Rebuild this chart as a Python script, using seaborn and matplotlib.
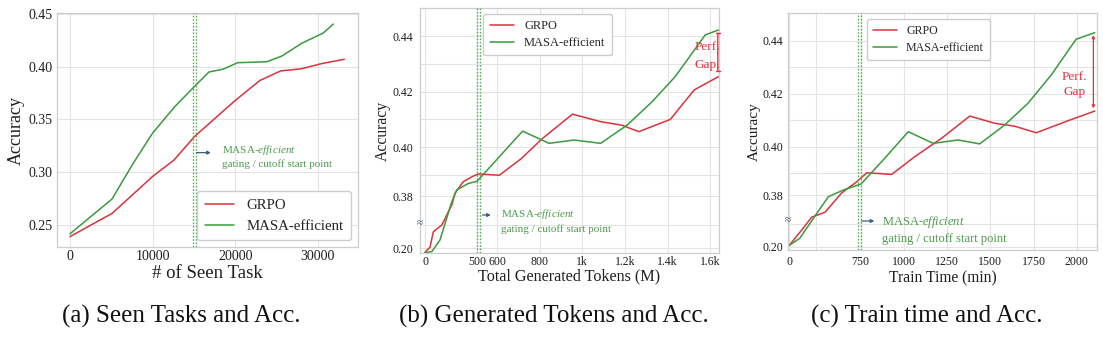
import numpy as np
import pandas as pd
import matplotlib
matplotlib.use("Agg")
import matplotlib.pyplot as plt
import seaborn as sns

# ---------------- data ----------------
# (a) seen tasks
a_x_grpo = [0, 5100, 10000, 12600, 15100, 20000, 23000, 25500, 28000, 30500, 33200]
a_y_grpo = [0.239, 0.261, 0.296, 0.3116, 0.334, 0.368, 0.387, 0.396, 0.398, 0.403, 0.407]
a_x_masa = [0, 5100, 7660, 10000, 12670, 15130, 16830, 18560, 20300, 23810, 25630, 28050, 30670, 31880]
a_y_masa = [0.2416, 0.2747, 0.3085, 0.337, 0.362, 0.3817, 0.395, 0.3977, 0.4038, 0.4047, 0.410, 0.4222, 0.432, 0.4404]
a_xticks = [0, 10000, 20000, 30000]
a_yticks = [0.25, 0.30, 0.35, 0.40, 0.45]

# (b) generated tokens (M)
b_x_grpo = [0, 48, 80, 161, 257, 288, 368, 464, 507, 611, 712, 814, 954, 1086, 1187, 1265, 1413, 1525, 1639]
b_y_grpo = [0.186, 0.204, 0.257, 0.280, 0.349, 0.3813, 0.3868, 0.3895, 0.3904, 0.3899, 0.3958, 0.4032,
            0.4119, 0.4092, 0.4079, 0.4056, 0.410, 0.4206, 0.4254]
b_x_masa = [0, 64, 144, 257, 305, 417, 500, 611, 720, 844, 961, 1086, 1211, 1328, 1436, 1577, 1639]
b_y_masa = [0.186, 0.188, 0.2286, 0.360, 0.3829, 0.3860, 0.3870, 0.3966, 0.4058, 0.4014, 0.4026, 0.4014,
            0.408, 0.4164, 0.4254, 0.4404, 0.4422]
b_xticks = [0, 500, 600, 800, 1000, 1200, 1400, 1600]
b_xticklabels = ["0", "500", "600", "800", "1k", "1.2k", "1.4k", "1.6k"]

# (c) train time (min)
c_x_grpo = [0, 130, 235, 375, 550, 708, 785, 929, 1063, 1217, 1381, 1525, 1640, 1765, 1960, 2104]
c_y_grpo = [0.205, 0.258, 0.303, 0.320, 0.381, 0.3861, 0.3902, 0.3895, 0.3963, 0.4032, 0.4116, 0.4089,
            0.4078, 0.4053, 0.4101, 0.4135]
c_x_masa = [0, 110, 288, 410, 567, 752, 889, 1025, 1169, 1313, 1438, 1582, 1717, 1852, 1996, 2104]
c_y_masa = [0.205, 0.2293, 0.316, 0.374, 0.3823, 0.3851, 0.3957, 0.4057, 0.4013, 0.4026, 0.4011, 0.4082,
            0.4164, 0.4271, 0.4406, 0.4431]
c_xticks = [0, 750, 1000, 1250, 1500, 1750, 2000]

bc_yticks = [0.20, 0.38, 0.40, 0.42, 0.44]
bc_yminor = [0.28, 0.39, 0.41, 0.43]

labels = ["GRPO", "MASA-efficient"]
captions = ["(a) Seen Tasks and Acc.", "(b) Generated Tokens and Acc.", "(c) Train time and Acc."]

# ---------------- style ----------------
sns.set_theme(style="whitegrid")
plt.rcParams["font.family"] = ["Liberation Serif", "DejaVu Serif"]
plt.rcParams["mathtext.fontset"] = "custom"
plt.rcParams["mathtext.rm"] = "Liberation Serif"
plt.rcParams["mathtext.it"] = "Liberation Serif:italic"

RED = "#d8343c"
GREEN = "#3a9a3e"
TXTGREEN = "#4f9a4f"
ARROW = "#3c5f80"
GAPRED = "#e8303c"
GRID = "#e4e4e4"
SPINE = "#cdcdcd"
TICKC = "#1e1e1e"

W, H = 1103, 339
fig = plt.figure(figsize=(W / 100, H / 100), dpi=100)


def add_ax(l, r, t, b):
    return fig.add_axes([l / W, (H - b) / H, (r - l) / W, (b - t) / H])


def pw(xk, pk):
    xk = np.asarray(xk, float)
    pk = np.asarray(pk, float)
    return (lambda v: np.interp(v, xk, pk)), (lambda v: np.interp(v, pk, xk))


def style_ax(ax, fs):
    ax.set_facecolor("white")
    for s in ax.spines.values():
        s.set_color(SPINE)
        s.set_linewidth(0.9)
    ax.grid(True, which="major", color=GRID, lw=0.8)
    ax.grid(True, which="minor", color=GRID, lw=0.8)
    ax.tick_params(axis="both", which="both", length=0, labelsize=fs, colors=TICKC)


def draw_lines(ax, xg, yg, xm, ym):
    sns.lineplot(x=xg, y=yg, ax=ax, color=RED, lw=1.1, label=labels[0], estimator=None, sort=False)
    sns.lineplot(x=xm, y=ym, ax=ax, color=GREEN, lw=1.1, label=labels[1], estimator=None, sort=False)


def cutoff(ax, xs):
    for xv in xs:
        ax.axvline(xv, color="#5cae5c", ls=(0, (1.2, 1.2)), lw=1.0, zorder=3)


def note(ax, xt, y1, y2, xa0, xa1, ya, fs):
    ax.annotate("", xy=(xa1, ya), xytext=(xa0, ya),
                arrowprops=dict(arrowstyle="-|>", color=ARROW, lw=0.9, mutation_scale=5,
                                shrinkA=0, shrinkB=0))
    ax.text(xt, y1, r"MASA-$\mathit{efficient}$", color=TXTGREEN, fontsize=fs, ha="left", va="center")
    ax.text(xt, y2, "gating / cutoff start point", color=TXTGREEN, fontsize=fs, ha="left", va="center")


# ---------------- (a) ----------------
ax = add_ax(56.7, 358.3, 13.3, 247.3)
draw_lines(ax, a_x_grpo, a_y_grpo, a_x_masa, a_y_masa)
style_ax(ax, 10)
ax.set_xlim(-1600, 34900)
ax.set_ylim(0.2289, 0.4506)
ax.set_xticks(a_xticks)
ax.set_yticks(a_yticks)
ax.set_yticklabels([f"{v:.2f}" for v in a_yticks])
ax.tick_params(axis="x", pad=2)
ax.tick_params(axis="y", pad=3)
cutoff(ax, [14900, 15300])
note(ax, 18370, 0.321, 0.3076, 15330, 17060, 0.3186, 8.0)
ax.set_xlabel("# of Seen Task", fontsize=13.5, color=TICKC)
ax.set_ylabel("Accuracy", fontsize=13, color=TICKC)
ax.xaxis.set_label_coords(0.5, -0.076)
ax.yaxis.set_label_coords(-0.105, 0.5)
h, l = ax.get_legend_handles_labels()
ax.legend(h, l, loc="lower right", bbox_to_anchor=(0.975, 0.03), borderaxespad=0, fontsize=10.7,
          handlelength=2.0, handletextpad=0.8, frameon=True, edgecolor="#cccccc", facecolor="white",
          framealpha=1.0, borderpad=0.5, labelspacing=0.5)

# ---------------- (b) ----------------
ax = add_ax(419.5, 719.3, 8.0, 253.3)
fx, ix = pw([-500, 0, 500, 600, 3000], [425 - 52, 425, 477, 497, 497 + 0.213 * 2400])
fy, iy = pw([0.0, 0.20, 0.38, 0.39, 0.60],
            [-(248.3 + 0.2 * 290.6), -248.3, -196, -175, -(175 - 21 * 27.8)])
ax.set_xscale("function", functions=(fx, ix))
ax.set_yscale("function", functions=(fy, iy))
draw_lines(ax, b_x_grpo, b_y_grpo, b_x_masa, b_y_masa)
style_ax(ax, 8.5)
ax.set_xlim(-53, 1643)
ax.set_ylim(0.1828, 0.4501)
ax.set_xticks(b_xticks)
ax.set_xticklabels(b_xticklabels)
ax.set_xticks([], minor=True)
ax.set_yticks(bc_yticks)
ax.set_yticklabels([f"{v:.2f}" for v in bc_yticks])
ax.set_yticks(bc_yminor, minor=True)
ax.tick_params(axis="x", pad=2)
ax.tick_params(axis="y", pad=4.5)
cutoff(ax, [500, 517])
note(ax, 620, 0.317, 0.2654, 527, 569, 0.3146, 8.0)
ax.text(0.0, 0.288, "≈", transform=ax.get_yaxis_transform(), color="#2a4a7a", fontsize=8,
        ha="center", va="center")
ax.annotate("", xy=(1636, 0.441), xytext=(1636, 0.4275),
            arrowprops=dict(arrowstyle="|-|", color=GAPRED, lw=1.0, mutation_scale=1.5,
                            shrinkA=0, shrinkB=0))
ax.text(1585, 0.4362, "Perf.", color=GAPRED, fontsize=9.5, ha="center", va="center", clip_on=True)
ax.text(1585, 0.4296, "Gap.", color=GAPRED, fontsize=9.5, ha="center", va="center", clip_on=True)
ax.set_xlabel("Total Generated Tokens (M)", fontsize=11.6, color=TICKC)
ax.set_ylabel("Accuracy", fontsize=11.3, color=TICKC)
ax.xaxis.set_label_coords(0.5, -0.062)
ax.yaxis.set_label_coords(-0.094, 0.5)
h, l = ax.get_legend_handles_labels()
ax.legend(h, l, loc="upper left", bbox_to_anchor=(0.213, 0.976), borderaxespad=0, fontsize=8.9,
          handlelength=2.0, handletextpad=0.8, frameon=True, edgecolor="#cccccc", facecolor="white",
          framealpha=1.0, borderpad=0.5, labelspacing=0.4)

# ---------------- (c) ----------------
ax = add_ax(788, 1097, 13.3, 250)
fx, ix = pw([-500, 0, 750, 3000], [789.3 - 0.0952 * 500, 789.3, 860.7, 860.7 + 0.1728 * 2250])
fy, iy = pw([0.0, 0.20, 0.38, 0.39, 0.60],
            [-(246.7 + 0.2 * 287.2), -246.7, -195, -173.3, -(173.3 - 21 * 26.5)])
ax.set_xscale("function", functions=(fx, ix))
ax.set_yscale("function", functions=(fy, iy))
draw_lines(ax, c_x_grpo, c_y_grpo, c_x_masa, c_y_masa)
style_ax(ax, 8.6)
ax.set_xlim(-14, 2117)
ax.set_ylim(0.1885, 0.4504)
ax.set_xticks(c_xticks)
ax.set_xticklabels([str(v) for v in c_xticks])
ax.set_xticks([280], minor=True)
ax.set_yticks(bc_yticks)
ax.set_yticklabels([f"{v:.2f}" for v in bc_yticks])
ax.set_yticks(bc_yminor, minor=True)
ax.tick_params(axis="x", pad=4)
ax.tick_params(axis="y", pad=3.5)
cutoff(ax, [718, 752])
note(ax, 871, 0.287, 0.2258, 756, 829, 0.2895, 9.0)
ax.text(0.0, 0.293, "≈", transform=ax.get_yaxis_transform(), color="#2a4a7a", fontsize=8,
        ha="center", va="center")
ax.annotate("", xy=(2096, 0.4422), xytext=(2096, 0.4145),
            arrowprops=dict(arrowstyle="<|-|>", color=GAPRED, lw=0.9, mutation_scale=4,
                            shrinkA=0, shrinkB=0))
ax.text(1987, 0.4265, "Perf.", color=GAPRED, fontsize=9.5, ha="center", va="center")
ax.text(1987, 0.4208, "Gap", color=GAPRED, fontsize=9.5, ha="center", va="center")
ax.set_xlabel("Train Time (min)", fontsize=11.2, color=TICKC)
ax.set_ylabel("Accuracy", fontsize=11.0, color=TICKC)
ax.xaxis.set_label_coords(0.5, -0.088)
ax.yaxis.set_label_coords(-0.087, 0.5)
h, l = ax.get_legend_handles_labels()
ax.legend(h, l, loc="upper left", bbox_to_anchor=(0.2547, 0.9747), borderaxespad=0, fontsize=8.6,
          handlelength=2.0, handletextpad=0.8, frameon=True, edgecolor="#cccccc", facecolor="white",
          framealpha=1.0, borderpad=0.5, labelspacing=0.4)

# ---------------- captions ----------------
for cx, cap in zip([181, 553.5, 927], captions):
    fig.text(cx / W, 1 - 316 / H, cap, ha="center", va="center", fontsize=18,
             family=["Liberation Serif", "DejaVu Serif"], color="#111111")

fig.savefig("out.png", dpi=100, facecolor="white")
